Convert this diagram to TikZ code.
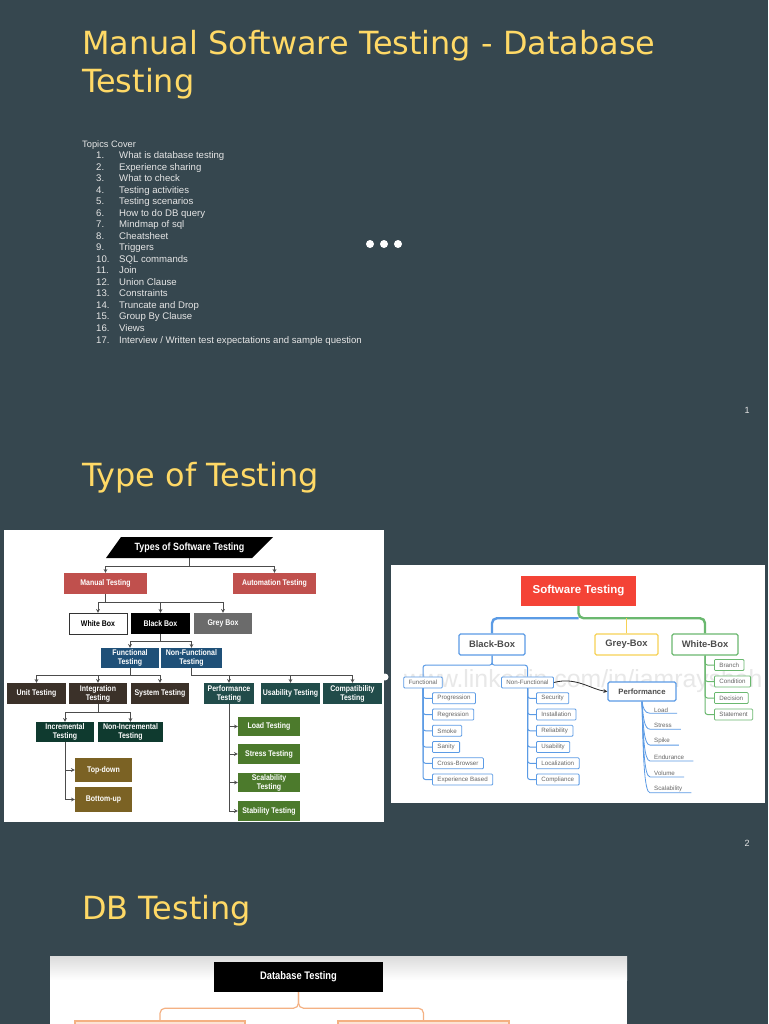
\documentclass[tikz,border=0pt]{standalone}
\usepackage{fontspec}
\setmainfont{Liberation Sans}
\newfontfamily\titlefont{DejaVu Sans}
\newfontfamily\condfont[FakeStretch=0.85]{Liberation Sans}
\usetikzlibrary{arrows}
\definecolor{slidebg}{HTML}{36474F}
\definecolor{titleyellow}{HTML}{FFD966}
\definecolor{topicgray}{HTML}{E6E6E6}
\definecolor{manualred}{HTML}{C0504D}
\definecolor{greybox}{HTML}{6B6B6B}
\definecolor{funcblue}{HTML}{1F5078}
\definecolor{darkbrown}{HTML}{3B3129}
\definecolor{darkteal}{HTML}{214C4A}
\definecolor{darkgreen}{HTML}{0F3A2F}
\definecolor{olivebox}{HTML}{7B6224}
\definecolor{leafgreen}{HTML}{4C7A2C}
\definecolor{swred}{HTML}{F44336}
\definecolor{rblue}{HTML}{5B9BE5}
\definecolor{ryellow}{HTML}{F6D155}
\definecolor{rgreen}{HTML}{6AB86F}
\definecolor{oline}{HTML}{F4B183}
\definecolor{ofill}{HTML}{FCE4D6}
\begin{document}
\begin{tikzpicture}[x=1pt, y=-1pt,
    slidetitle/.style={anchor=base west, inner sep=0pt, text=titleyellow, font=\titlefont\fontsize{31.9}{37}\selectfont},
    topic/.style={anchor=base west, inner sep=0pt, text=topicgray, font=\fontsize{9.6}{11}\selectfont},
    pagenum/.style={inner sep=0pt, text=topicgray, font=\fontsize{9}{11}\selectfont},
    lbox/.style={rectangle, minimum height=21pt, inner sep=1pt, text=white, align=center, font=\condfont\bfseries\fontsize{8.2}{9}\selectfont},
    larrow/.style={->, >=stealth, draw=black!70, line width=0.7pt},
    rbox/.style={rectangle, draw, line width=1.3pt, fill=white, rounded corners=1.5pt, minimum height=21pt, text=black!70, font=\bfseries\fontsize{9.4}{10}\selectfont},
    rleaf/.style={rectangle, draw, line width=0.8pt, fill=white, rounded corners=1pt, anchor=west, minimum height=11pt, inner xsep=5pt, inner ysep=0pt, text=black!60, font=\fontsize{6.2}{7}\selectfont},
    pleaf/.style={anchor=south west, inner xsep=4pt, inner ysep=1pt, text=black!60, font=\fontsize{6.2}{7}\selectfont},
    rline/.style={draw=rblue, line width=1pt, rounded corners=2.5pt},
    gline/.style={draw=rgreen, line width=1pt, rounded corners=2.5pt},
    curvearrow/.style={->, >=stealth, draw=black!85, line width=0.8pt},
]
\useasboundingbox (0,0) rectangle (768,1024);
\fill[slidebg] (0,0) rectangle (768,1024);
\clip (0,0) rectangle (768,1024);

% slide 1
\node[slidetitle] (title1) at (82,55) {Manual Software Testing - Database};
\node[slidetitle] (title2) at (82,93) {Testing};
\node[topic, font=\fontsize{9.3}{11}\selectfont] (topics) at (82,147.5) {Topics Cover};
\foreach \t [count=\n] in {What is database testing, Experience sharing, What to check, Testing activities, Testing scenarios, How to do DB query, Mindmap of sql, Cheatsheet, Triggers, SQL commands, Join, Union Clause, Constraints, Truncate and Drop, Group By Clause, Views, Interview / Written test expectations and sample question} {
  \node[topic] (num\n) at (96,{158.7+11.52*(\n-1)}) {\n.};
  \node[topic] (topic\n) at (119,{158.7+11.52*(\n-1)}) {\t};
}
\foreach \dx in {0,14,28} \fill[white] (370+\dx,244) circle (4);
\node[pagenum] (pg1) at (747,410) {1};

% slide 2
\node[slidetitle] (title3) at (82,486) {Type of Testing};
\node[pagenum] (pg2) at (747,843) {2};

\fill[white] (4,530) rectangle (384,822);
\fill[black] (106,558) -- (121,537) -- (273,537) -- (252,558) -- cycle;
\node[lbox, minimum height=21pt, inner sep=0pt, font=\condfont\bfseries\fontsize{10.5}{11}\selectfont] (types) at (189.5,547.5) {Types of Software Testing};
\node[lbox, fill=manualred, minimum width=83pt] (manual) at (105.5,583.5) {Manual Testing};
\node[lbox, fill=manualred, minimum width=83pt] (auto) at (274.5,583.5) {Automation Testing};
\node[lbox, fill=white, draw=black!80, text=black, minimum width=58pt] (white) at (98,623.5) {White Box};
\node[lbox, fill=black, minimum width=59pt] (black) at (160.5,623.5) {Black Box};
\node[lbox, fill=greybox, minimum width=58pt] (grey) at (223,623.5) {Grey Box};
\node[lbox, fill=funcblue, minimum width=58pt, minimum height=20pt] (func) at (130,658) {Functional\\Testing};
\node[lbox, fill=funcblue, minimum width=61pt, minimum height=20pt] (nonfunc) at (191.5,658) {Non-Functional\\Testing};
\node[lbox, fill=darkbrown, minimum width=59pt] (unit) at (36.5,693.5) {Unit Testing};
\node[lbox, fill=darkbrown, minimum width=58pt] (integ) at (98,693.5) {Integration\\Testing};
\node[lbox, fill=darkbrown, minimum width=58pt] (system) at (160,693.5) {System Testing};
\node[lbox, fill=darkteal, minimum width=50pt] (perf) at (229,693.5) {Performance\\Testing};
\node[lbox, fill=darkteal, minimum width=59pt] (usab) at (290.5,693.5) {Usability Testing};
\node[lbox, fill=darkteal, minimum width=59pt] (compat) at (352.5,693.5) {Compatibility\\Testing};
\node[lbox, fill=darkgreen, minimum width=58pt, minimum height=20pt] (incr) at (65,732) {Incremental\\Testing};
\node[lbox, fill=darkgreen, minimum width=65pt, minimum height=20pt] (nonincr) at (130.5,732) {Non-Incremental\\Testing};
\node[lbox, fill=olivebox, minimum width=57pt, minimum height=24pt] (topdown) at (103.5,770) {Top-down};
\node[lbox, fill=olivebox, minimum width=57pt, minimum height=25pt] (bottomup) at (103.5,799.5) {Bottom-up};
\node[lbox, fill=leafgreen, minimum width=62pt, minimum height=19pt] (load) at (269,726.5) {Load Testing};
\node[lbox, fill=leafgreen, minimum width=62pt, minimum height=20pt] (stress) at (269,754) {Stress Testing};
\node[lbox, fill=leafgreen, minimum width=62pt, minimum height=19pt] (scal) at (269,782.5) {Scalability\\Testing};
\node[lbox, fill=leafgreen, minimum width=62pt, minimum height=20pt] (stab) at (269,811) {Stability Testing};

\draw[larrow] (types.south) -- ++(0,8) -| (manual.north);
\draw[larrow] (types.south) -- ++(0,8) -| (auto.north);
\foreach \c in {white,black,grey} \draw[larrow] (manual.south) -- ++(0,8) -| (\c.north);
\foreach \c in {func,nonfunc} \draw[larrow] (black.south) -- ++(0,7) -| (\c.north);
\foreach \c in {unit,integ,system} \draw[larrow] (func.south) -- ++(0,7) -| (\c.north);
\foreach \c in {perf,usab,compat} \draw[larrow] (nonfunc.south) -- ++(0,7) -| (\c.north);
\foreach \c in {incr,nonincr} \draw[larrow] (integ.south) -- ++(0,8) -| (\c.north);
\foreach \c in {topdown,bottomup} \draw[larrow] (incr.south) |- (\c.west);
\foreach \c in {load,stress,scal,stab} \draw[larrow] (perf.south) |- (\c.west);

\fill[white] (385,677) circle (3.5);

\fill[white] (391,565) rectangle (765,803);
\begin{scope}
  \clip (391,565) rectangle (765,803);
  \node[anchor=west, inner sep=0pt, text=black!9, font=\fontsize{24.8}{25}\selectfont] (wmark) at (404,681) {www.linkedin.com/in/iamrayshah};
\end{scope}
\node[rectangle, fill=swred, minimum width=115pt, minimum height=30pt, text=white, font=\bfseries\fontsize{11.5}{12}\selectfont] (sw) at (578.5,591) {Software Testing};
\node[rbox, draw=rblue, minimum width=66pt] (bbox) at (492,644.5) {Black-Box};
\node[rbox, draw=ryellow, minimum width=63pt] (gbox) at (626.5,644.5) {Grey-Box};
\node[rbox, draw=rgreen, minimum width=66pt] (wbox) at (705,644.5) {White-Box};
\node[rleaf, draw=rblue, anchor=center] (func2) at (423,682.5) {Functional};
\node[rleaf, draw=rblue, anchor=center] (nonfunc2) at (527.5,682.5) {Non-Functional};
\node[rbox, draw=rblue, minimum width=68pt, minimum height=19pt, font=\bfseries\fontsize{7.7}{8}\selectfont] (perf2) at (642,691.5) {Performance};

\path (sw.south) ++(0,12) coordinate (swj);
\draw[draw=rblue, line width=2.4pt, rounded corners=5pt] (swj) -| (bbox.north);
\draw[draw=rgreen, line width=2.4pt, rounded corners=5pt] (sw.south) -- (swj) -| (wbox.north);
\draw[draw=ryellow, line width=1.5pt] (gbox.north) -- (gbox.north |- swj);
\draw[rline] (bbox.south) -- ++(0,9.5) -| (func2.north);
\draw[rline] (bbox.south) -- ++(0,9.5) -| (nonfunc2.north);

\foreach \t [count=\i] in {Progression,Regression,Smoke,Sanity,Cross-Browser,Experience Based} {
  \node[rleaf, draw=rblue] (fl\i) at (432,{698.3+16.25*(\i-1)}) {\t};
  \draw[rline] (func2.south) |- (fl\i.west);
}
\foreach \t [count=\i] in {Security,Installation,Reliability,Usability,Localization,Compliance} {
  \node[rleaf, draw=rblue] (nl\i) at (536,{698.3+16.25*(\i-1)}) {\t};
  \draw[rline] (nonfunc2.south) |- (nl\i.west);
}
\foreach \t [count=\i] in {Branch,Condition,Decision,Statement} {
  \node[rleaf, draw=rgreen] (wl\i) at (714,{665+16.5*(\i-1)}) {\t};
  \draw[gline] (wbox.south) |- (wl\i.west);
}
\foreach \t [count=\i] in {Load,Stress,Spike,Endurance,Volume,Scalability} {
  \node[pleaf] (pl\i) at (650,{713.3+15.9*(\i-1)}) {\t};
  \draw[draw=rblue, line width=0.8pt] (perf2.south) .. controls +(1,{5+9*(\i-1)}) and +(-6,0) .. (pl\i.south west) -- (pl\i.south east) -- ++(5,0);
}
\draw[curvearrow] (nonfunc2.east) .. controls +(22,-6) and +(-16,-2) .. (perf2.west);

% slide 3
\node[slidetitle] (title4) at (82,919) {DB Testing};
\fill[white] (50,956) rectangle (627,1030);
\shade[top color=black!14, bottom color=white] (50,956) rectangle (627,980);
\node[rectangle, fill=black, minimum width=169pt, minimum height=30pt, text=white, font=\condfont\bfseries\fontsize{11}{12}\selectfont] (dbt) at (298.5,977) {Database Testing};
\node[rectangle, draw=oline, fill=ofill, line width=1.2pt, minimum width=170pt, minimum height=34pt] (dbl) at (160,1038) {};
\node[rectangle, draw=oline, fill=ofill, line width=1.2pt, minimum width=171pt, minimum height=34pt] (dbr) at (423.5,1038) {};
\draw[draw=oline, line width=1.2pt, rounded corners=5pt] (dbt.south) -- ++(0,16) -| (dbl.north);
\draw[draw=oline, line width=1.2pt, rounded corners=5pt] (dbt.south) -- ++(0,16) -| (dbr.north);
\end{tikzpicture}
\end{document}
